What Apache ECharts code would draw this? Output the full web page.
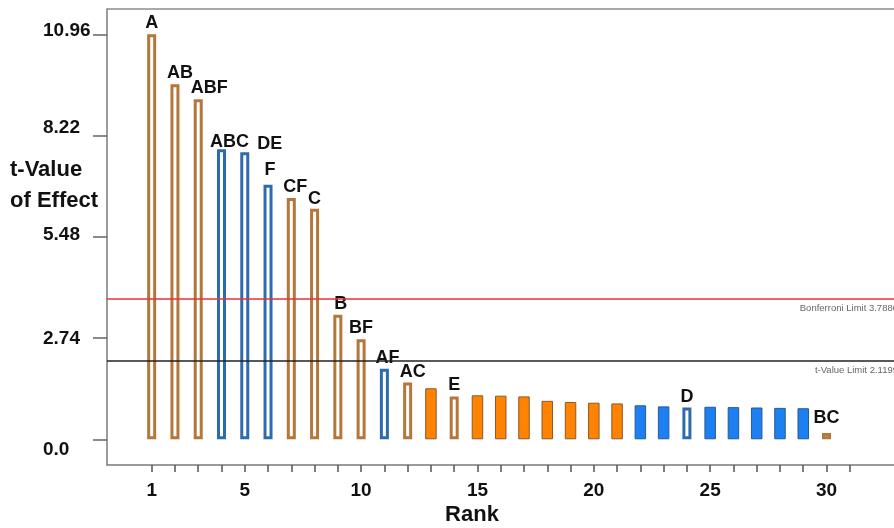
<!DOCTYPE html>
<html>
<head>
<meta charset="utf-8">
<script src="https://cdn.jsdelivr.net/npm/echarts@6/dist/echarts.min.js"></script>
<style>
  html, body { margin: 0; padding: 0; background: #fff; }
  #chart { width: 894px; height: 528px; }
</style>
</head>
<body>
<div id="chart"></div>
<script>
// Pareto chart of effects: t-values ranked by size
const ranks = [1, 2, 3, 4, 5, 6, 7, 8, 9, 10, 11, 12, 13, 14, 15, 16, 17, 18, 19, 20, 21, 22, 23, 24, 25, 26, 27, 28, 29, 30];
const terms = ['A', 'AB', 'ABF', 'ABC', 'DE', 'F', 'CF', 'C', 'B', 'BF', 'AF', 'AC', '', 'E', '', '', '', '', '', '', '', '', '', 'D', '', '', '', '', '', 'BC'];
const tValues = [10.96, 9.61, 9.20, 7.85, 7.77, 6.89, 6.53, 6.24, 3.37, 2.71, 1.91, 1.54, 1.38, 1.16, 1.19, 1.18, 1.16, 1.04, 1.01, 0.99, 0.97, 0.92, 0.89, 0.86, 0.88, 0.87, 0.86, 0.85, 0.84, 0.17];
// '+' positive effect, '-' negative effect
const effectSign = ['+', '+', '+', '-', '-', '-', '+', '+', '+', '+', '-', '+', '+', '+', '+', '+', '+', '+', '+', '+', '+', '-', '-', '-', '-', '-', '-', '-', '-', '+'];
// 1 = term kept in the model, 0 = error estimate
const inModel = [1, 1, 1, 1, 1, 1, 1, 1, 1, 1, 1, 1, 0, 1, 0, 0, 0, 0, 0, 0, 0, 0, 0, 1, 0, 0, 0, 0, 0, 1];
const yTicks = [0, 2.74, 5.48, 8.22, 10.96];
const xTickLabels = [1, 5, 10, 15, 20, 25, 30];
const xMinorTicks = [1, 2, 3, 4, 5, 6, 7, 8, 9, 10, 11, 12, 13, 14, 15, 16, 17, 18, 19, 20, 21, 22, 23, 24, 25, 26, 27, 28, 29, 30, 31];
const bonferroniLimit = 3.7880;
const tValueLimit = 2.1199;

const FONT = '"Liberation Sans", Arial, sans-serif';
const COPPER = '#B5763A';
const STEEL = '#2E6BAE';
const ORANGE = '#FF8200';
const AZURE = '#1C80F2';

// small label shifts so neighbouring labels do not collide
const labelShift = {
  AB: [5, 0], ABF: [11, 0], ABC: [8, 4], DE: [25, 3], F: [2, -4],
  CF: [4, 0], C: [0, 1], B: [3, 0], AF: [3, 0], AC: [5, 1], D: [0, 1], BC: [0, -4]
};

const modelData = [];
const errorData = [];
ranks.forEach((r, i) => {
  const positive = effectSign[i] === '+';
  if (inModel[i]) {
    const shift = labelShift[terms[i]] || [0, 0];
    modelData.push({
      value: [r, tValues[i]],
      name: terms[i],
      itemStyle: { color: '#fff', borderColor: positive ? COPPER : STEEL, borderWidth: 3 },
      label: { offset: shift }
    });
  } else {
    errorData.push({
      value: [r, tValues[i]],
      name: terms[i],
      itemStyle: {
        color: positive ? ORANGE : AZURE,
        borderColor: positive ? '#8A5A2B' : '#2A5A90',
        borderWidth: 1
      }
    });
  }
});

const yShift = { 0: 10, 2.74: 1, 5.48: -2, 8.22: -8, 10.96: -4 };

const xRange = { min: -0.92, max: 32.9 };
const axisGray = '#7a7a7a';
const tickText = { fontFamily: FONT, fontSize: 19, fontWeight: 'bold', color: '#111' };

const chart = echarts.init(document.getElementById('chart'), null, { renderer: 'canvas' });
chart.setOption({
  animation: false,
  backgroundColor: '#fff',
  grid: { left: 107, right: -6, top: 9, bottom: 63, show: false },
  xAxis: [{
    type: 'value',
    min: xRange.min,
    max: xRange.max,
    axisLine: { show: true, onZero: false, lineStyle: { color: axisGray, width: 1.5 } },
    axisTick: { show: true, customValues: xMinorTicks, length: 7, lineStyle: { color: '#555', width: 1.5 } },
    axisLabel: Object.assign({ customValues: xTickLabels, margin: 16 }, tickText),
    splitLine: { show: false }
  }, {
    type: 'value',
    min: xRange.min,
    max: xRange.max,
    show: false
  }],
  yAxis: [{
    type: 'value',
    min: -0.696,
    max: 11.645,
    axisLine: { show: true, onZero: false, lineStyle: { color: axisGray, width: 1.5 } },
    axisTick: { show: true, customValues: yTicks, length: 14, lineStyle: { color: '#666', width: 1.5 } },
    axisLabel: Object.assign({
      customValues: yTicks,
      align: 'left',
      margin: 64,
      formatter: v => {
        const txt = v === 0 ? '0.0' : v.toFixed(2);
        const s = yShift[v] || 0;
        return s > 0 ? '{dn' + s + '|' + txt + '}' : (s < 0 ? '{up' + (-s) + '|' + txt + '}' : txt);
      },
      rich: {
        dn10: Object.assign({ padding: [20, 0, 0, 0] }, tickText),
        dn1: Object.assign({ padding: [2, 0, 0, 0] }, tickText),
        up2: Object.assign({ padding: [0, 0, 4, 0] }, tickText),
        up8: Object.assign({ padding: [0, 0, 16, 0] }, tickText),
        up4: Object.assign({ padding: [0, 0, 8, 0] }, tickText)
      }
    }, tickText),
    splitLine: { show: false }
  }],
  graphic: [
    {
      type: 'line',
      shape: { x1: 107, y1: 9, x2: 894, y2: 9 },
      style: { stroke: '#8c8c8c', lineWidth: 1.5 },
      silent: true
    },
    {
      type: 'text',
      left: 10, top: 154,
      style: {
        text: 't-Value\nof Effect',
        font: 'bold 22px ' + FONT,
        lineHeight: 31,
        fill: '#111',
        textAlign: 'left'
      }
    },
    {
      type: 'text',
      x: 472, y: 515,
      style: {
        text: 'Rank',
        font: 'bold 22px ' + FONT,
        fill: '#111',
        textAlign: 'center',
        textVerticalAlign: 'middle'
      }
    }
  ],
  series: [
    {
      name: 'Model terms',
      type: 'bar',
      xAxisIndex: 0,
      barWidth: 9,
      data: modelData,
      label: {
        show: true,
        position: 'top',
        distance: 2,
        formatter: p => p.name,
        fontFamily: FONT, fontSize: 18, fontWeight: 'bold', color: '#111'
      },
      markLine: {
        silent: true,
        symbol: 'none',
        data: [
          {
            yAxis: bonferroniLimit,
            lineStyle: { color: '#E8313C', width: 1.5, type: 'solid' },
            label: {
              formatter: 'Bonferroni Limit ' + bonferroniLimit.toFixed(4),
              position: 'insideEndBottom',
              distance: [-4, 4],
              fontFamily: FONT, fontSize: 9.5, color: '#666'
            }
          },
          {
            yAxis: tValueLimit,
            lineStyle: { color: '#222', width: 1.5, type: 'solid' },
            label: {
              formatter: 't-Value Limit ' + tValueLimit.toFixed(4),
              position: 'insideEndBottom',
              distance: [-4, 4],
              fontFamily: FONT, fontSize: 9.5, color: '#666'
            }
          }
        ]
      },
      z: 3
    },
    {
      name: 'Error estimates',
      type: 'bar',
      xAxisIndex: 1,
      barWidth: 11.5,
      data: errorData,
      z: 3
    }
  ]
});
</script>
</body>
</html>
